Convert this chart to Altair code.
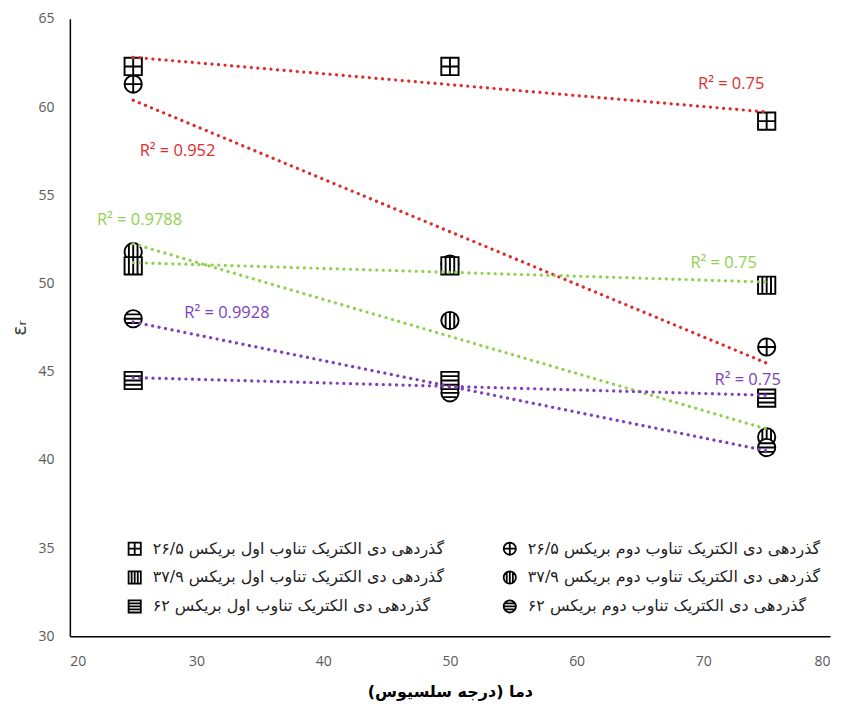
import altair as alt
import pandas as pd

temps = [25, 50, 75]
series_names = [
    "گذردهی دی الکتریک تناوب اول بریکس ۲۶/۵",
    "گذردهی دی الکتریک تناوب اول بریکس ۳۷/۹",
    "گذردهی دی الکتریک تناوب اول بریکس ۶۲",
    "گذردهی دی الکتریک تناوب دوم بریکس  ۲۶/۵",
    "گذردهی دی الکتریک تناوب دوم بریکس ۳۷/۹",
    "گذردهی دی الکتریک تناوب دوم بریکس ۶۲",
]
series_groups = ["26.5", "37.9", "62", "26.5", "37.9", "62"]
series_values = [
    [62.3, 62.3, 59.2],
    [51.0, 51.0, 49.9],
    [44.5, 44.5, 43.5],
    [61.3, 51.1, 46.4],
    [51.8, 47.9, 41.3],
    [48.0, 43.8, 40.7],
]
draw_order = [3, 4, 5, 0, 1, 2]

r2_text = ["R² = 0.75", "R² = 0.952", "R² = 0.9788", "R² = 0.75", "R² = 0.9928", "R² = 0.75"]
r2_group = ["26.5", "26.5", "37.9", "37.9", "62", "62"]
r2_x = [72.2, 28.5, 25.5, 71.6, 32.4, 73.5]
r2_y = [61.3, 57.5, 53.6, 51.15, 48.3, 44.5]

group_domain = ["26.5", "37.9", "62"]
group_colors = ["#E02B2B", "#92D050", "#7E3FBA"]

SQ = "M-1,-1H1V1H-1Z"
CI = "M-1,0A1,1,0,1,0,1,0A1,1,0,1,0,-1,0Z"
shapes = [
    SQ + "M0,-1V1M-1,0H1",
    SQ + "M-0.5,-1V1M0,-1V1M0.5,-1V1",
    SQ + "M-1,-0.5H1M-1,0H1M-1,0.5H1",
    CI + "M0,-1V1M-1,0H1",
    CI + "M-0.5,-0.866V0.866M0,-1V1M0.5,-0.866V0.866",
    CI + "M-0.866,-0.5H0.866M-1,0H1M-0.866,0.5H0.866",
]

rows = []
for i in draw_order:
    for t, v in zip(temps, series_values[i]):
        rows.append({"series": series_names[i], "group": series_groups[i], "x": t, "y": v})
df = pd.DataFrame(rows)
lab = pd.DataFrame({"text": r2_text, "group": r2_group, "x": r2_x, "y": r2_y})

xs = alt.Scale(domain=[20, 80], nice=False, zero=False)
ys = alt.Scale(domain=[30, 65], nice=False, zero=False)
cs = alt.Scale(domain=group_domain, range=group_colors)

points = alt.Chart(df).mark_point(
    fill="white", fillOpacity=1, color="black", strokeWidth=1.9, size=300
).encode(
    x=alt.X("x:Q", scale=xs, axis=alt.Axis(values=list(range(20, 81, 10)),
                                             title="\u200fدما (درجه سلسیوس)\u200f")),
    y=alt.Y("y:Q", scale=ys, axis=alt.Axis(values=list(range(30, 66, 5)), title="εᵣ")),
    shape=alt.Shape("series:N", scale=alt.Scale(domain=series_names, range=shapes),
                    legend=alt.Legend(
                        title=None, orient="none", legendX=57, legendY=523,
                        columns=2, columnPadding=55, rowPadding=9,
                        symbolSize=150, symbolStrokeWidth=1.8,
                        labelFont="DejaVu Sans", labelFontSize=16, labelColor="#222222",
                        labelLimit=500, labelOffset=10)),
)

lines = alt.Chart(df).transform_regression(
    "x", "y", groupby=["series", "group"], extent=[25, 75]
).mark_line(strokeDash=[0.1, 6.5], strokeCap="round", strokeWidth=3.2).encode(
    x=alt.X("x:Q", scale=xs),
    y=alt.Y("y:Q", scale=ys),
    color=alt.Color("group:N", scale=cs, legend=None),
    detail="series:N",
)

labels = alt.Chart(lab).mark_text(font="Open Sans", fontSize=16.5).encode(
    x=alt.X("x:Q", scale=xs),
    y=alt.Y("y:Q", scale=ys),
    text="text:N",
    color=alt.Color("group:N", scale=cs, legend=None),
)

chart = alt.layer(points, lines, labels).properties(
    width=762, height=619,
    autosize=alt.AutoSizeParams(type="none"),
    padding={"left": 62, "top": 10, "right": 8, "bottom": 64},
).configure_view(stroke=None).configure_axis(
    grid=False, ticks=False, domainColor="black", domainWidth=1.5,
    labelFont="Open Sans", labelFontSize=14, labelColor="#595959",
).configure_axisY(
    labelPadding=16, titleFont="DejaVu Sans", titleFontSize=19, titleFontWeight="normal",
    titleColor="#404040", titlePadding=8,
).configure_axisX(
    labelPadding=18, titleFont="DejaVu Sans", titleFontSize=16, titleFontWeight="bold",
    titleColor="#000000", titlePadding=15,
)

chart.save("out.html", embed_options={"renderer": "svg", "actions": False})
